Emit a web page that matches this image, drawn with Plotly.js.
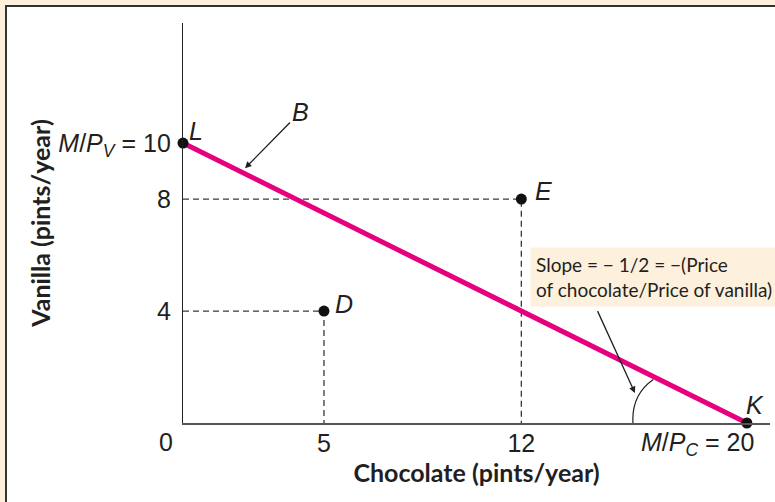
<!DOCTYPE html>
<html>
<head>
<meta charset="utf-8">
<script src="https://cdn.plot.ly/plotly-3.0.1.min.js"></script>
<style>html,body{margin:0;padding:0;background:#fdf0dc;}</style>
</head>
<body>
<div id="chart" style="width:775px;height:502px;"></div>
<script>
// Budget line endpoints (chocolate, vanilla)
const budgetChocolate = [0, 20];
const budgetVanilla = [10, 0];

// Labelled bundles
const pointNames = ['L', 'D', 'E', 'K'];
const pointChocolate = [0, 5, 12, 20];
const pointVanilla = [10, 4, 8, 0];

// Tick labels
const xTickVals = [5, 12];
const xTickText = ['5', '12'];
const yTickVals = [4, 8, 10];
const yTickText = ['4', '8', '<i>M</i>/<i>P</i><sub><i>V</i></sub> = 10'];

const xTitle = 'Chocolate (pints/year)';
const yTitle = 'Vanilla (pints/year)';
const slopeText = 'Slope = − 1/2 = −(Price<br>of chocolate/Price of vanilla)';
const xEndLabel = '<i>M</i>/<i>P</i><sub><i>C</i></sub> = 20';

const tickFont = {family: 'Liberation Sans, Arial, sans-serif', size: 25, color: '#231f20'};
const labelFont = {family: 'Liberation Sans, Arial, sans-serif', size: 25, color: '#231f20'};
const titleFont = {family: 'Lato, sans-serif', size: 25, color: '#231f20', weight: 'bold'};

const traces = [];
// Dashed guide lines for D and E
[1, 2].forEach(i => {
  traces.push({
    x: [0, pointChocolate[i], pointChocolate[i]],
    y: [pointVanilla[i], pointVanilla[i], 0],
    mode: 'lines', type: 'scatter', hoverinfo: 'skip',
    line: {color: '#3a3a3a', width: 1.3, dash: '6px,4px'},
    showlegend: false, cliponaxis: false
  });
});
traces.push({
  x: budgetChocolate, y: budgetVanilla, mode: 'lines', type: 'scatter',
  line: {color: '#e6007e', width: 5}, showlegend: false, cliponaxis: false
});
traces.push({
  x: pointChocolate, y: pointVanilla, mode: 'markers', type: 'scatter',
  marker: {color: '#111', size: 11}, showlegend: false, cliponaxis: false
});

const labelOffsets = {L: [13, 12], D: [20, 7], E: [22, 8], K: [8, 18]};
const annotations = pointNames.map((n, i) => ({
  x: pointChocolate[i], y: pointVanilla[i], xref: 'x', yref: 'y',
  text: '<i>' + n + '</i>', showarrow: false,
  xshift: labelOffsets[n][0], yshift: labelOffsets[n][1],
  font: labelFont
}));
annotations.push({
  x: 2.2, y: 9.1, xref: 'x', yref: 'y', ax: 4.15, ay: 11.1, axref: 'x', ayref: 'y',
  text: '<i>B</i>', font: labelFont, showarrow: true,
  arrowhead: 2, arrowsize: 1, arrowwidth: 1.3, arrowcolor: '#231f20', standoff: 0
});
annotations.push({
  x: 12.3, y: 6.3, xref: 'x', yref: 'y', xanchor: 'left', yanchor: 'top',
  text: slopeText, showarrow: false, align: 'left',
  bgcolor: '#fdf0dc', borderpad: 5,
  font: {family: 'Lato, sans-serif', size: 19, color: '#231f20'}
});
annotations.push({
  x: 16.03, y: 1.07, xref: 'x', yref: 'y', ax: 14.68, ay: 4.05, axref: 'x', ayref: 'y',
  text: '', showarrow: true,
  arrowhead: 2, arrowsize: 1, arrowwidth: 1.3, arrowcolor: '#231f20', standoff: 0
});
annotations.push({
  x: 20, y: 0, xref: 'x', yref: 'y', xanchor: 'right', yanchor: 'top',
  text: xEndLabel, showarrow: false, xshift: 9, yshift: -3, font: tickFont
});
annotations.push({
  x: 0, y: 0, xref: 'x', yref: 'y', xanchor: 'center', yanchor: 'top',
  text: '0', showarrow: false, xshift: -17, yshift: -3, font: tickFont
});

const layout = {
  width: 775, height: 502,
  margin: {l: 183, r: 5, t: 23, b: 79},
  paper_bgcolor: '#fdf0dc',
  plot_bgcolor: 'rgba(0,0,0,0)',
  showlegend: false,
  xaxis: {
    range: [0, 20.82], showgrid: false, zeroline: false,
    showline: true, linecolor: '#555', linewidth: 2,
    tickvals: xTickVals, ticktext: xTickText, ticks: '',
    tickfont: tickFont, fixedrange: true, ticklabelstandoff: -3,
    title: {text: xTitle, font: titleFont, standoff: 0}
  },
  yaxis: {
    range: [0, 14.29], showgrid: false, zeroline: false,
    showline: true, linecolor: '#222', linewidth: 1.2,
    tickvals: yTickVals, ticktext: yTickText, ticks: '',
    tickfont: tickFont, fixedrange: true, ticklabelstandoff: 6,
    title: {text: yTitle, font: titleFont, standoff: 0}
  },
  shapes: [
    {type: 'rect', xref: 'paper', yref: 'paper', layer: 'below',
     x0: (6 - 183) / 587, x1: (790 - 183) / 587,
     y0: (423 - 520) / 400, y1: (423 - 6) / 400,
     fillcolor: '#ffffff', line: {color: '#333', width: 2}},
    {type: 'path', xref: 'x', yref: 'y',
     path: 'M 15.96,0 Q 15.9,1.0 16.68,1.55',
     line: {color: '#231f20', width: 1.2}}
  ],
  annotations: annotations
};

Plotly.newPlot('chart', traces, layout, {displayModeBar: false, staticPlot: true});
</script>
</body>
</html>
